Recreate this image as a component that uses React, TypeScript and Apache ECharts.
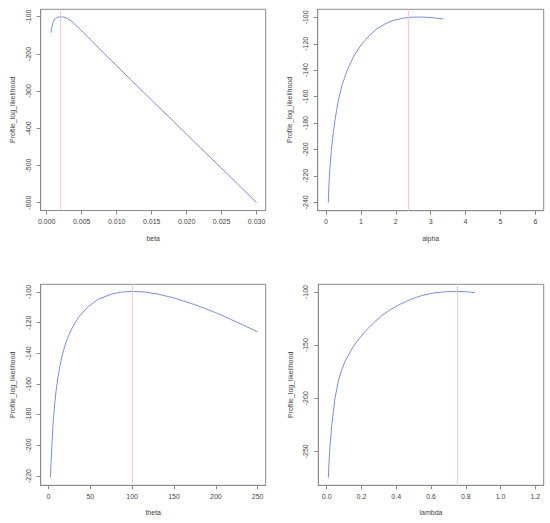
import React, { useEffect, useRef } from "react";
import * as echarts from "echarts";

// ---- data ----
const betaX = [0.00057, 0.0007, 0.0009, 0.00105, 0.00123, 0.0015, 0.0019, 0.0024, 0.0029, 0.0035, 0.004, 0.005, 0.006, 0.007, 0.008, 0.010, 0.012, 0.014, 0.016, 0.018, 0.020, 0.022, 0.024, 0.026, 0.028, 0.030];
const betaY = [-143, -131, -115, -109, -105, -101.5, -100, -100.8, -104, -111.5, -120, -138, -157, -176, -195, -232, -269, -306, -342.5, -379, -416, -453, -489.5, -526, -563, -600];

const alphaX = [0.063, 0.08, 0.11, 0.15, 0.2, 0.25, 0.3, 0.36, 0.45, 0.6, 0.8, 1.03, 1.25, 1.45, 1.7, 1.93, 2.2, 2.5, 2.8, 3.1, 3.36];
const alphaY = [-240.3, -228, -214, -201, -189, -179, -170.5, -162, -152, -140.5, -129, -120, -113.5, -108.8, -104.8, -102.3, -100.6, -99.8, -99.8, -100.4, -101.3];

const thetaX = [2.4, 3, 4, 5, 6, 7.5, 9.2, 11, 13.2, 16, 19.2, 23, 27.2, 32, 37.2, 47.2, 59.2, 75.2, 87.2, 100, 115, 131, 150, 175, 200, 225, 250];
const thetaY = [-220.8, -212, -200.6, -190.5, -182, -172.5, -164, -156.8, -149.7, -142.3, -135.8, -129.8, -124.7, -119.8, -115.6, -109.6, -104.8, -101.4, -100.1, -99.6, -100, -101.4, -103.9, -108.3, -113.5, -119.6, -126];

const lambdaX = [0.0096, 0.013, 0.019, 0.029, 0.048, 0.067, 0.085, 0.106, 0.144, 0.173, 0.221, 0.27, 0.317, 0.365, 0.413, 0.46, 0.51, 0.56, 0.606, 0.655, 0.702, 0.75, 0.8, 0.852];
const lambdaY = [-275, -262, -246, -226, -200, -184, -174, -165.2, -153.8, -146.8, -137.2, -129, -122.3, -116.8, -112.3, -108.6, -105.3, -102.8, -101.2, -100.2, -99.6, -99.4, -99.7, -100.6];

const mleValues = [0.00194, 2.37, 100.4, 0.75];
const paramNames = ["beta", "alpha", "theta", "lambda"];
const yTitle = "Profile_log_likelihood";

const xTicks = [
  [0, 0.005, 0.01, 0.015, 0.02, 0.025, 0.03],
  [0, 1, 2, 3, 4, 5, 6],
  [0, 50, 100, 150, 200, 250],
  [0, 0.2, 0.4, 0.6, 0.8, 1.0, 1.2],
];
const xDecimals = [3, 0, 0, 1];
const yTicks = [
  [-600, -500, -400, -300, -200, -100],
  [-240, -220, -200, -180, -160, -140, -120, -100],
  [-220, -200, -180, -160, -140, -120, -100],
  [-250, -200, -150, -100],
];

const FONT = "'Liberation Sans', Arial, sans-serif";
const TEXT = "#444";
const AXIS = "#8a8a8a";
const CURVE = "#7890db";
const MLE = "#fbc9d1";

export default function App() {
  const ref = useRef<HTMLDivElement>(null);
  useEffect(() => {
    if (!ref.current) return;
    const chart = echarts.init(ref.current, null, { renderer: "svg" });
    const xs = [betaX, alphaX, thetaX, lambdaX];
    const ys = [betaY, alphaY, thetaY, lambdaY];
    const grids = [
      { left: 40.7, top: 9.3, width: 225, height: 201.2 },
      { left: 317.7, top: 9.3, width: 226, height: 201.4 },
      { left: 40.7, top: 284.3, width: 225, height: 201 },
      { left: 318.3, top: 284.3, width: 225.4, height: 201 },
    ];
    const xLim = [
      [-0.00086, 0.0313],
      [-0.24, 6.24],
      [-9.3, 259.6],
      [-0.048, 1.248],
    ];
    const yLim = [
      [-621, -80],
      [-246.4, -93.9],
      [-226, -95],
      [-282, -92.75],
    ];
    const option: any = {
      animation: false,
      backgroundColor: "#fff",
      grid: grids.map((g) => ({
        ...g,
        show: true,
        borderColor: AXIS,
        borderWidth: 1,
        backgroundColor: "transparent",
        containLabel: false,
      })),
      xAxis: grids.map((_, i) => ({
        type: "value",
        gridIndex: i,
        min: xLim[i][0],
        max: xLim[i][1],
        name: paramNames[i],
        nameLocation: "middle",
        nameGap: 24,
        nameTextStyle: { color: TEXT, fontSize: 7, fontFamily: FONT },
        splitLine: { show: false },
        axisLine: { show: true, onZero: false, lineStyle: { color: AXIS, width: 1 } },
        axisTick: {
          show: true,
          inside: false,
          length: 4,
          customValues: xTicks[i],
          lineStyle: { color: AXIS, width: 1 },
        },
        axisLabel: {
          show: true,
          customValues: xTicks[i],
          margin: 7.5,
          color: TEXT,
          fontSize: 7,
          fontFamily: FONT,
          formatter: (v: number) => v.toFixed(xDecimals[i]),
        },
      })),
      yAxis: grids.map((_, i) => ({
        type: "value",
        gridIndex: i,
        min: yLim[i][0],
        max: yLim[i][1],
        name: yTitle,
        nameLocation: "middle",
        nameGap: 24.5,
        nameTextStyle: { color: TEXT, fontSize: 7, fontFamily: FONT },
        splitLine: { show: false },
        axisLine: { show: true, onZero: false, lineStyle: { color: AXIS, width: 1 } },
        axisTick: {
          show: true,
          inside: false,
          length: 4,
          customValues: yTicks[i],
          lineStyle: { color: AXIS, width: 1 },
        },
        axisLabel: {
          show: true,
          customValues: yTicks[i],
          rotate: 90,
          margin: 9,
          color: TEXT,
          fontSize: 7,
          fontFamily: FONT,
        },
      })),
      series: grids.map((_, i) => ({
        type: "line",
        xAxisIndex: i,
        yAxisIndex: i,
        showSymbol: false,
        smooth: false,
        data: xs[i].map((x, k) => [x, ys[i][k]]),
        lineStyle: { color: CURVE, width: 1 },
        itemStyle: { color: CURVE },
        markLine: {
          silent: true,
          precision: 8,
          symbol: ["none", "none"],
          label: { show: false },
          lineStyle: { color: MLE, width: 1, type: "solid" },
          data: [{ xAxis: mleValues[i] }],
        },
      })),
    };
    chart.setOption(option);
    return () => chart.dispose();
  }, []);
  return (
    <div
      ref={ref}
      style={{ position: "absolute", left: 0, top: 0, width: 550, height: 523 }}
    />
  );
}
